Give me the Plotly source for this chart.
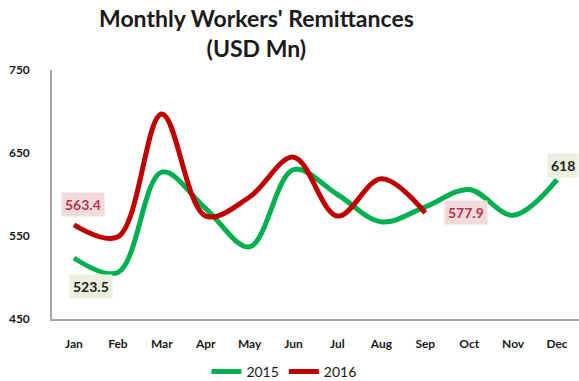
import plotly.graph_objects as go

months = ["Jan", "Feb", "Mar", "Apr", "May", "Jun", "Jul", "Aug", "Sep", "Oct", "Nov", "Dec"]
remit_2015 = [523.5, 506, 627, 583, 537, 630, 600, 567, 585, 606, 575, 618]
remit_2016 = [563.4, 549, 697, 574, 597, 645, 574, 619, 577.9]
y_ticks = [450, 550, 650, 750]

GREEN = "#00B050"
RED = "#C00000"
FONT = "Lato"

fig = go.Figure()
fig.add_trace(go.Scatter(x=months, y=remit_2015, name="2015", mode="lines",
                         line=dict(color=GREEN, width=5, shape="spline", smoothing=1.0)))
fig.add_trace(go.Scatter(x=months[:len(remit_2016)], y=remit_2016, name="2016", mode="lines",
                         line=dict(color=RED, width=5, shape="spline", smoothing=1.0)))

def value_label(xv, yv, text, fg, bg, dx, dy):
    fig.add_annotation(x=xv, y=yv, xref="x", yref="y", text=f"<b>{text}</b>",
                       showarrow=False, xshift=dx, yshift=dy,
                       font=dict(family=FONT, size=14, color=fg),
                       bgcolor=bg, borderpad=3)

value_label("Jan", remit_2016[0], f"{remit_2016[0]:.1f}", "#C0304D", "#F2DCDB", 9, 20)
value_label("Jan", remit_2015[0], f"{remit_2015[0]:.1f}", "#1F1F1F", "#EBF1DE", 17, -28)
value_label("Sep", remit_2016[8], f"{remit_2016[8]:.1f}", "#C0304D", "#F2DCDB", 41, 0)
value_label("Dec", remit_2015[11], f"{remit_2015[11]:g}", "#1F1F1F", "#EBF1DE", 6, 14)

# chart title
fig.add_annotation(text="<b>Monthly Workers' Remittances<br>(USD Mn)</b>",
                   x=(256 - 52) / (579 - 52), xref="paper", y=1.275, yref="paper",
                   xanchor="center", yanchor="top", showarrow=False,
                   font=dict(family=FONT, size=23, color="#1A1A1A"))

fig.update_layout(
    width=579, height=381,
    margin=dict(l=52, r=0, t=70, b=62, autoexpand=False),
    paper_bgcolor="white", plot_bgcolor="white",
    font=dict(family=FONT, size=11, color="#333333"),
    showlegend=True,
    legend=dict(orientation="h", x=0.44, xanchor="center",
                y=9 / 381, yref="container", yanchor="middle",
                font=dict(family=FONT, size=14, color="#1A1A1A"),
                itemwidth=30, tracegroupgap=0),
    xaxis=dict(type="category", range=[-0.5, 11.5], showgrid=False,
               showline=True, linecolor="#A6A6A6", linewidth=1.5, ticks="",
               tickfont=dict(family=FONT, size=12, color="#1A1A1A", weight="bold"),
               ticklabelstandoff=13),
    yaxis=dict(range=[450, 750], tickvals=y_ticks, showgrid=False, zeroline=False,
               showline=True, linecolor="#A6A6A6", linewidth=1.5, ticks="",
               tickfont=dict(family=FONT, size=12, color="#1A1A1A", weight="bold"),
               ticklabelstandoff=18),
)

fig.write_html("out.html")
